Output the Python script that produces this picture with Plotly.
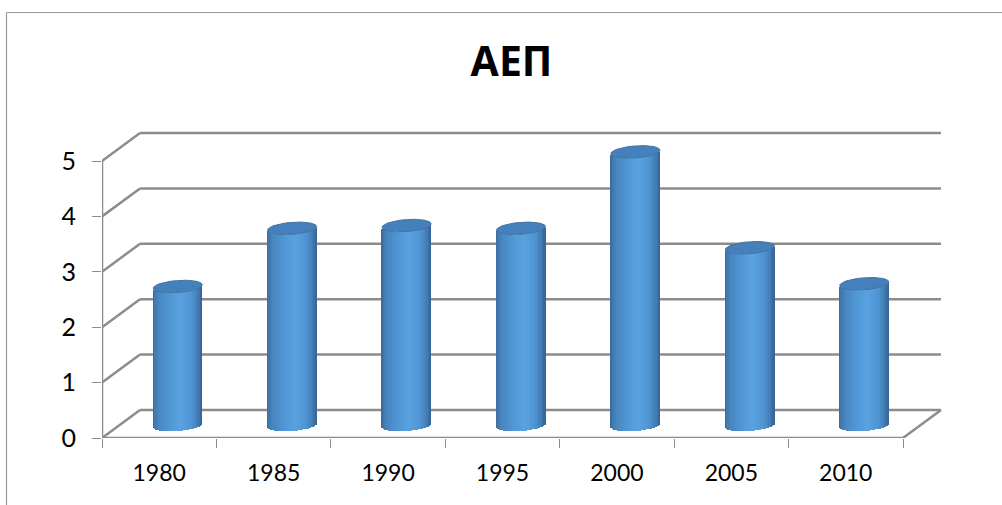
import numpy as np
import plotly.graph_objects as go

# ---- data ----
years = ["1980", "1985", "1990", "1995", "2000", "2005", "2010"]
values = [2.5, 3.55, 3.6, 3.55, 4.93, 3.2, 2.55]
y_ticks = [0, 1, 2, 3, 4, 5]

# ---- plot box (pixels in the 1002x505 page) ----
W, H = 1002, 505
L, R, T, B = 102, 943, 131, 438
CAT_PX = (903 - 102) / 7
UNIT_PX = (438 - 161) / 5
DX = 38 / CAT_PX      # depth offset of the back wall
DY = 28 / UNIT_PX
BAR_W = 49 / CAT_PX
BAR_OFF = 18.5 / CAT_PX
BAR_BASE = 13 / UNIT_PX
RY = 6 / UNIT_PX
TILT = 1.7 / UNIT_PX
STRIPS = 36

xr = [-0.5, -0.5 + (R - L) / CAT_PX]
yr = [0, (B - T) / UNIT_PX]
GREY = "#8c8c8c"
LEFT, RIGHT = -0.5, 6.5


def shade(t):
    stops_t = [-1.0, -0.92, -0.75, -0.35, 0.15, 0.6, 0.88, 1.0]
    r = [58, 66, 72, 80, 90, 80, 66, 54]
    g = [104, 120, 134, 150, 162, 148, 122, 98]
    b = [150, 174, 192, 212, 226, 210, 178, 146]
    return "rgb(%d,%d,%d)" % (np.interp(t, stops_t, r), np.interp(t, stops_t, g), np.interp(t, stops_t, b))


fig = go.Figure()
idx = np.arange(len(years))
vals = np.array(values)

# cylinder bodies as narrow strips
ts = (np.arange(STRIPS) + 0.5) / STRIPS * 2 - 1
for t in ts:
    arc = RY * np.sqrt(1 - t * t)
    fig.add_trace(go.Bar(
        x=idx + BAR_OFF + t * BAR_W / 2,
        y=vals,
        base=BAR_BASE + t * TILT - arc,
        width=BAR_W / STRIPS * 1.25,
        marker=dict(color=shade(t), line=dict(width=0)),
        showlegend=False, hoverinfo="skip",
    ))

# cylinder caps
th = np.linspace(0, 2 * np.pi, 61)
for i, v in zip(idx, vals):
    cx = i + BAR_OFF + np.cos(th) * BAR_W / 2
    cy = v + BAR_BASE + np.sin(th) * RY + np.cos(th) * TILT
    fig.add_trace(go.Scatter(
        x=cx, y=cy, mode="lines", fill="toself", fillcolor="#4480bb",
        line=dict(color="#44729f", width=1), showlegend=False, hoverinfo="skip",
    ))

# walls, floor, axes
shapes = []
def seg(x0, y0, x1, y1):
    shapes.append(dict(type="line", xref="x", yref="y", x0=x0, y0=y0, x1=x1, y1=y1,
                       line=dict(color=GREY, width=2.5), layer="below"))

for v in y_ticks:
    seg(LEFT + DX, v + DY, RIGHT + DX, v + DY)
    seg(LEFT, v, LEFT + DX, v + DY)
seg(LEFT, 0, RIGHT, 0)
seg(LEFT, 0, LEFT, y_ticks[-1])
seg(RIGHT, 0, RIGHT + DX, DY)

# chart-area border: only top and left edges are visible in the crop
pw, ph = R - L, B - T
for x0, y0, x1, y1 in [(6.5, 12.5, 1010, 12.5), (6.5, 12.5, 6.5, 520)]:
    shapes.append(dict(type="line", xref="paper", yref="paper",
                       x0=(x0 - L) / pw, x1=(x1 - L) / pw,
                       y0=(B - y0) / ph, y1=(B - y1) / ph,
                       line=dict(color="#9a9a9a", width=1.2), layer="below"))

fig.update_layout(
    width=W, height=H, autosize=False,
    margin=dict(l=L, r=W - R, t=T, b=H - B, pad=0),
    paper_bgcolor="white", plot_bgcolor="rgba(0,0,0,0)",
    barmode="overlay", bargap=0,
    shapes=shapes,
    font=dict(family="Lato, 'Noto Sans', sans-serif", color="black", size=23),
    title=dict(text="<b>ΑΕΠ</b>", x=511.5 / W, xanchor="center", y=1 - 62 / H, yanchor="middle",
               font=dict(family="'Open Sans', 'Noto Sans', sans-serif", size=41, color="black")),
    xaxis=dict(
        range=xr, showgrid=False, zeroline=False, showline=False,
        tickmode="array", tickvals=list(idx), ticktext=years, ticks="",
        ticklabelstandoff=19, tickfont=dict(size=23),
        minor=dict(tickmode="array", tickvals=[k - 0.5 for k in range(len(years) + 1)],
                   ticks="outside", ticklen=9, tickwidth=1.2, tickcolor=GREY, showgrid=False),
    ),
    yaxis=dict(
        range=yr, showgrid=False, zeroline=False, showline=False,
        tickmode="array", tickvals=y_ticks, ticks="outside", ticklen=9, tickwidth=1.2,
        tickcolor=GREY, ticklabelstandoff=11, tickfont=dict(size=25),
    ),
)
fig.write_html("out.html", config={"displayModeBar": False},
               post_script="document.body.style.margin='0';document.documentElement.style.overflow='hidden';")
